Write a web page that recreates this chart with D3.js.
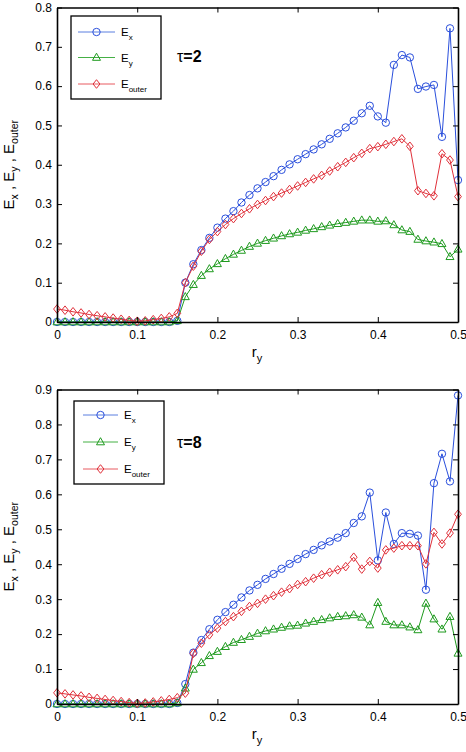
<!DOCTYPE html>
<html><head><meta charset="utf-8">
<script src="https://cdn.jsdelivr.net/npm/d3@7"></script>
<style>
body{margin:0;background:#fff}
svg{display:block}
text{font-family:"Liberation Sans",Arial,Helvetica,sans-serif;fill:#000}
</style>
</head><body>
<svg id="chart" width="466" height="752"></svg>
<script>
// ---- data ----
const ry = [0,0.01,0.02,0.03,0.04,0.05,0.06,0.07,0.08,0.09,0.10,0.11,0.12,0.13,0.14,0.15,0.16,0.17,0.18,0.19,0.20,0.21,0.22,0.23,0.24,0.25,0.26,0.27,0.28,0.29,0.30,0.31,0.32,0.33,0.34,0.35,0.36,0.37,0.38,0.39,0.40,0.41,0.42,0.43,0.44,0.45,0.46,0.47,0.48,0.49,0.50];

const tau2Ex = [0,0,0,0,0,0,0,0,0,0,0,0,0,0,0,0.003,
  0.100,0.147,0.183,0.214,0.240,0.263,0.282,0.304,0.323,0.340,0.356,0.371,0.387,0.401,0.414,0.427,0.439,0.452,0.466,0.480,0.495,0.512,0.531,0.550,0.523,0.507,0.654,0.679,0.673,0.593,0.599,0.603,0.471,0.747,0.361];
const tau2Ey = [0,0,0,0,0,0,0,0,0,0,0,0,0,0,0,0.003,
  0.064,0.095,0.118,0.135,0.148,0.161,0.172,0.182,0.192,0.200,0.207,0.213,0.219,0.224,0.228,0.233,0.237,0.242,0.246,0.250,0.253,0.256,0.259,0.259,0.256,0.257,0.247,0.234,0.230,0.210,0.206,0.203,0.199,0.166,0.185];
const tau2Eouter = [0.033,0.030,0.026,0.023,0.019,0.016,0.013,0.010,0.007,0.004,0.002,0.003,0.006,0.009,0.013,0.022,
  0.100,0.142,0.180,0.210,0.230,0.248,0.263,0.276,0.288,0.299,0.309,0.319,0.328,0.337,0.346,0.355,0.364,0.373,0.384,0.395,0.406,0.418,0.429,0.441,0.446,0.452,0.459,0.466,0.447,0.334,0.327,0.321,0.428,0.412,0.319];

const tau8Ex = [0,0,0,0,0,0,0,0,0,0,0,0,0,0,0,0.003,
  0.057,0.147,0.183,0.214,0.241,0.263,0.284,0.305,0.325,0.341,0.358,0.372,0.387,0.401,0.415,0.429,0.441,0.454,0.465,0.476,0.489,0.518,0.537,0.605,0.411,0.548,0.458,0.489,0.487,0.482,0.327,0.632,0.716,0.637,0.883];
const tau8Ey = [0,0,0,0,0,0,0,0,0,0,0,0,0,0,0,0.003,
  0.045,0.099,0.118,0.138,0.150,0.164,0.176,0.184,0.193,0.202,0.209,0.214,0.219,0.223,0.225,0.231,0.236,0.241,0.246,0.250,0.252,0.255,0.248,0.226,0.290,0.236,0.226,0.226,0.220,0.212,0.288,0.243,0.214,0.250,0.145];
const tau8Eouter = [0.032,0.029,0.026,0.023,0.019,0.016,0.013,0.010,0.007,0.004,0.002,0.003,0.006,0.009,0.013,0.018,
  0.031,0.145,0.174,0.198,0.217,0.236,0.250,0.265,0.279,0.288,0.300,0.310,0.320,0.330,0.342,0.350,0.360,0.370,0.377,0.384,0.393,0.420,0.386,0.408,0.389,0.441,0.446,0.453,0.453,0.453,0.401,0.491,0.458,0.489,0.543];

const xTicks = [0,0.1,0.2,0.3,0.4,0.5];
const yTicksTop = [0,0.1,0.2,0.3,0.4,0.5,0.6,0.7,0.8];
const yTicksBottom = [0,0.1,0.2,0.3,0.4,0.5,0.6,0.7,0.8,0.9];
const seriesSubs = ["x","y","outer"];
const tauValues = ["2","8"];
const xLabelSub = "y";

// ---- styles ----
const colors = ["#2a4fdc","#1e9a1e","#e0303a"];
const legendColors = ["#5a7ee0","#45b045","#e85a60"];
const markerTypes = ["circle","triangle","diamond"];

const svg = d3.select("#chart");

function markerPath(type){
  if(type==="triangle") return "M0,-4.3L4,2.8L-4,2.8Z";
  if(type==="diamond") return "M0,-4.3L3.4,0L0,4.3L-3.4,0Z";
  return null;
}
function drawMarker(g, type, color){
  if(type==="circle"){
    g.append("circle").attr("r",3.7).attr("fill","none").attr("stroke",color).attr("stroke-width",1);
  } else {
    g.append("path").attr("d",markerPath(type)).attr("fill","none").attr("stroke",color).attr("stroke-width",1);
  }
}

function fmt(d){ return d===0 ? "0" : d3.format(".1f")(d); }

function panel(cfg){
  const x = d3.scaleLinear().domain([0,0.5]).range([57,458]);
  const y = d3.scaleLinear().domain([0,cfg.ymax]).range([cfg.y0,cfg.y1]);
  const g = svg.append("g");

  const series = [cfg.ex, cfg.ey, cfg.eo];
  const line = d3.line().x((d,i)=>x(ry[i])).y(d=>y(d));
  series.forEach((s,k)=>{
    const sg = g.append("g");
    sg.append("path").datum(s).attr("d",line).attr("fill","none").attr("stroke",colors[k]).attr("stroke-width",1);
    s.forEach((v,i)=>{
      const m = sg.append("g").attr("transform",`translate(${x(ry[i])},${y(v)})`);
      drawMarker(m, markerTypes[k], colors[k]);
    });
  });

  // axes
  const ax = g.append("g").attr("transform",`translate(0,${cfg.y0})`)
    .call(d3.axisBottom(x).tickValues(xTicks).tickFormat(fmt).tickSizeInner(-5).tickSizeOuter(0).tickPadding(8));
  const ay = g.append("g").attr("transform",`translate(57,0)`)
    .call(d3.axisLeft(y).tickValues(cfg.yTicks).tickFormat(fmt).tickSizeInner(-5).tickSizeOuter(0).tickPadding(5));
  const at = g.append("g").attr("transform",`translate(0,${cfg.y1})`)
    .call(d3.axisTop(x).tickValues(xTicks).tickFormat("").tickSizeInner(-5).tickSizeOuter(0));
  const ar = g.append("g").attr("transform",`translate(458,0)`)
    .call(d3.axisRight(y).tickValues(cfg.yTicks).tickFormat("").tickSizeInner(-5).tickSizeOuter(0));
  [ax,ay,at,ar].forEach(a=>{
    a.select(".domain").attr("stroke","#000").attr("stroke-width",1.6);
    a.selectAll(".tick line").attr("stroke","#000").attr("stroke-width",1);
    a.selectAll(".tick text").style("font-size","12px").style("font-family","'Liberation Sans',Arial,sans-serif").attr("fill","#000");
  });

  // x label
  const xl = g.append("text").attr("x",257).attr("y",cfg.y0+35).attr("text-anchor","middle").style("font-size","15px");
  xl.append("tspan").text("r");
  xl.append("tspan").attr("dy",5).style("font-size","11px").text(xLabelSub);

  // y label
  const cy = (cfg.y0+cfg.y1)/2;
  const yl = g.append("text").attr("transform",`translate(14,${cy}) rotate(-90)`).attr("text-anchor","middle").style("font-size","15px");
  seriesSubs.forEach((s,i)=>{
    yl.append("tspan").attr("dy", i===0?0:-4).text(i===0?"E":" , E");
    yl.append("tspan").attr("dy",4).style("font-size","10.5px").text(s);
  });

  // tau label
  const tl = g.append("text").attr("x",177).attr("y",cfg.tauY).style("font-size","16px");
  tl.append("tspan").text("\u03C4");
  tl.append("tspan").style("font-weight","bold").text("=" + cfg.tau);

  // legend
  const L = cfg.legend;
  g.append("rect").attr("x",L.x).attr("y",L.y).attr("width",L.w).attr("height",L.h)
    .attr("fill","#fff").attr("stroke","#000").attr("stroke-width",1.3);
  seriesSubs.forEach((s,k)=>{
    const ry0 = L.rows[k];
    g.append("line").attr("x1",L.lx1).attr("x2",L.lx2).attr("y1",ry0).attr("y2",ry0)
      .attr("stroke",legendColors[k]).attr("stroke-width",1);
    const m = g.append("g").attr("transform",`translate(${(L.lx1+L.lx2)/2},${ry0})`);
    drawMarker(m, markerTypes[k], colors[k]);
    const t = g.append("text").attr("x",L.tx).attr("y",ry0+4).style("font-size","11.5px");
    t.append("tspan").text("E");
    t.append("tspan").attr("dy",4).style("font-size","8px").text(s);
  });
}

panel({ex:tau2Ex, ey:tau2Ey, eo:tau2Eouter, ymax:0.8, y0:322, y1:7.5, yTicks:yTicksTop, tau:tauValues[0], tauY:62,
  legend:{x:71,y:16,w:90,h:83,rows:[32,57.5,84],lx1:78,lx2:115,tx:121}});
panel({ex:tau8Ex, ey:tau8Ey, eo:tau8Eouter, ymax:0.9, y0:704, y1:389.5, yTicks:yTicksBottom, tau:tauValues[1], tauY:448,
  legend:{x:74,y:401,w:90,h:83,rows:[415,442,469],lx1:83,lx2:118,tx:124}});
</script>
</body></html>
